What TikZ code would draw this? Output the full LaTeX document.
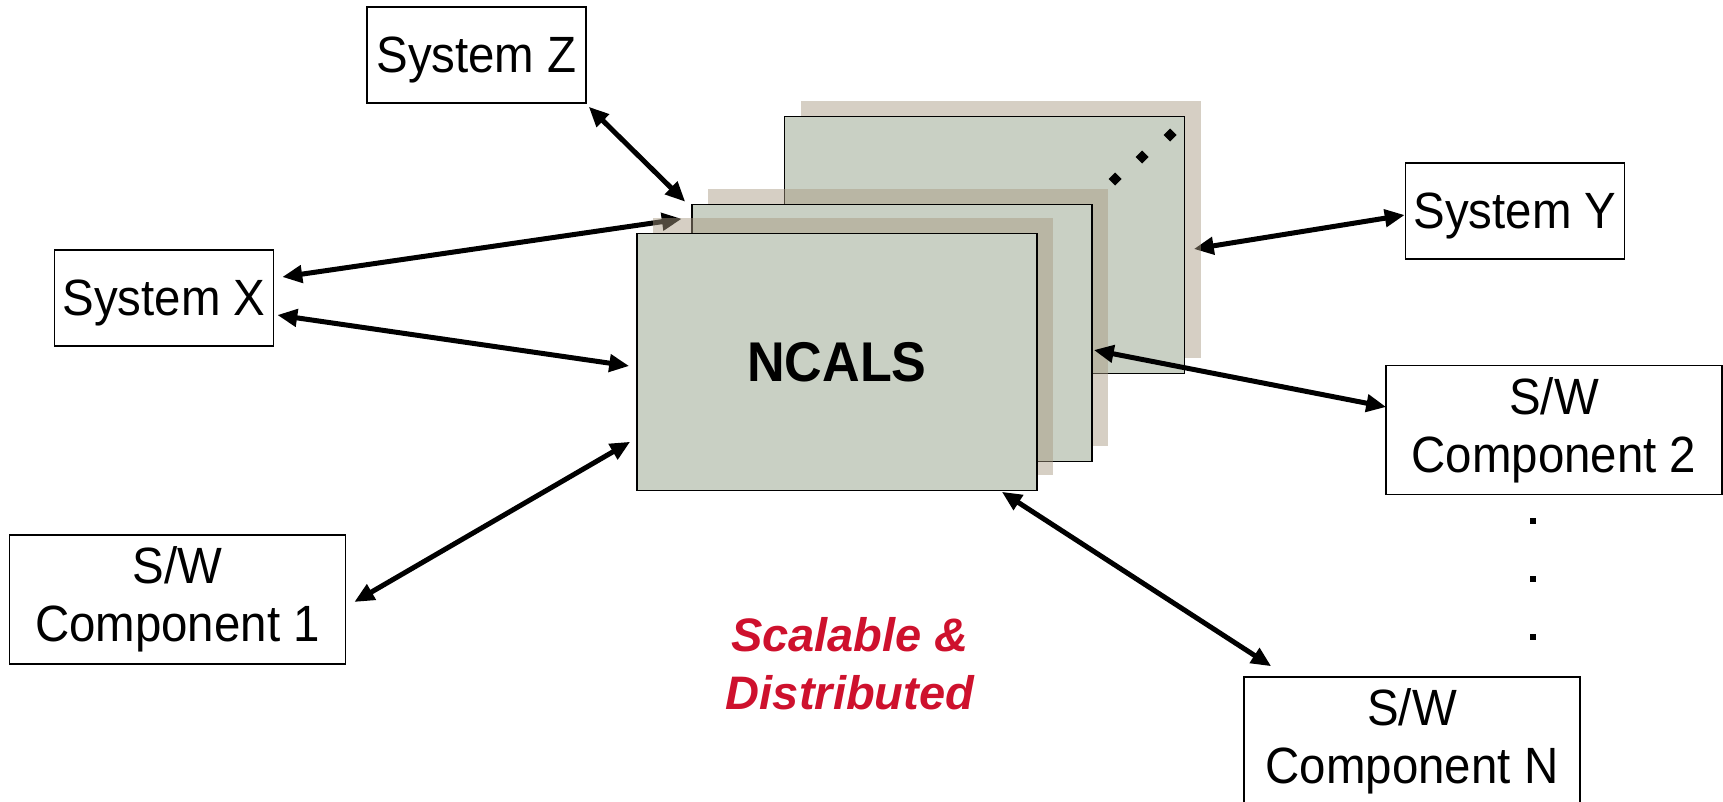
\documentclass[tikz,border=0pt]{standalone}
\usepackage{fontspec}
\setmainfont{Liberation Sans}
\newfontfamily\boxfont{Liberation Sans}[FakeStretch=0.93]
\usetikzlibrary{arrows.meta,calc}
\definecolor{panelgreen}{RGB}{201,208,196}
\definecolor{shadetan}{RGB}{168,153,130}
\definecolor{tagred}{RGB}{206,17,45}
\pgfdeclarelayer{under}
\pgfdeclarelayer{over}
\pgfsetlayers{under,main,over}
\tikzset{
  framed/.style={draw=black, line width=1.5pt, fill=white, inner sep=0pt,
    align=center, font={\boxfont\fontsize{51}{58}\selectfont}},
  sysbox/.style={framed, minimum width=219pt, minimum height=96pt,
    text height=45pt, text depth=11pt},
  swbox/.style={framed, minimum width=336pt, minimum height=129pt},
  panel/.style={draw=black, line width=1.5pt, fill=panelgreen, minimum width=400pt,
    minimum height=257pt, inner sep=0pt},
  shade/.style={fill=shadetan, fill opacity=0.47, minimum width=400pt,
    minimum height=257pt, inner sep=0pt},
  link/.style={line width=5pt,
    {Triangle[length=20pt,width=17pt]}-{Triangle[length=20pt,width=17pt]}},
  dot/.style={fill=black}
}
\begin{document}
\begin{tikzpicture}[x=1pt,y=-1pt]
\useasboundingbox (0,0) rectangle (1723,801);

% external systems and components
\node[sysbox] (sysz) at (476.5,55) {System Z};
\node[sysbox] (sysx) at (164,298) {System X};
\node[sysbox] (sysy) at (1515,211) {System Y};
\node[swbox] (sw1) at (177.5,599.5) {S/W\\Component 1};
\node[swbox] (sw2) at (1554,430) {S/W\\Component 2};
\node[swbox] (swn) at (1412,741.5) {S/W\\Component N};

% stacked NCALS instances with their shading
\node[shade] (backshade) at (1000.5,229) {};
\node[panel] (back) at (984.5,245) {};
\foreach \px/\py in {1170/135,1142/157,1115/179}
  \fill[dot] (\px,\py-6.5) -- (\px+6.5,\py) -- (\px,\py+6.5) -- (\px-6.5,\py) -- cycle;
\node[shade] (midshade) at (908,317) {};
\node[panel] (mid) at (892,333) {};
\node[shade] (frontshade) at (853,346) {};
\node[panel, font={\boxfont\fontsize{56}{60}\selectfont\bfseries}] (ncals) at (837,362) {NCALS};

% vertical ellipsis between the component boxes
\foreach \vy in {521,579,637}
  \fill[dot] (1530,\vy-3) rectangle (1536,\vy+3);

% caption
\node[text=tagred, align=center, font={\fontsize{47}{58}\selectfont\bfseries\itshape}]
  (tag) at (850,664) {Scalable \&\\Distributed};

% links passing beneath the shading
\begin{pgfonlayer}{under}
\draw[link] ($(sysx.east)+(8,-21)$) -- ($(frontshade.north west)+(29,1.5)$);
\draw[link] ($(back.east)+(8.5,4)$) -- ($(sysy.west)+(0,4)$);
\end{pgfonlayer}

% remaining links
\begin{pgfonlayer}{over}
\draw[link] ($(sysz.south east)+(2,3)$) -- ($(mid.north west)+(-6,-2)$);
\draw[link] ($(sysx.east)+(3,17)$) -- ($(ncals.west)+(-7,4)$);
\draw[link] ($(sw1.east)+(8,2.5)$) -- ($(ncals.south west)+(-6,-49.5)$);
\draw[link] ($(ncals.south east)+(-36,0.5)$) -- ($(swn.north west)+(28,-10)$);
\draw[link] ($(mid.east)+(1,17)$) -- ($(sw2.west)+(1,-23)$);
\end{pgfonlayer}
\end{tikzpicture}
\end{document}
